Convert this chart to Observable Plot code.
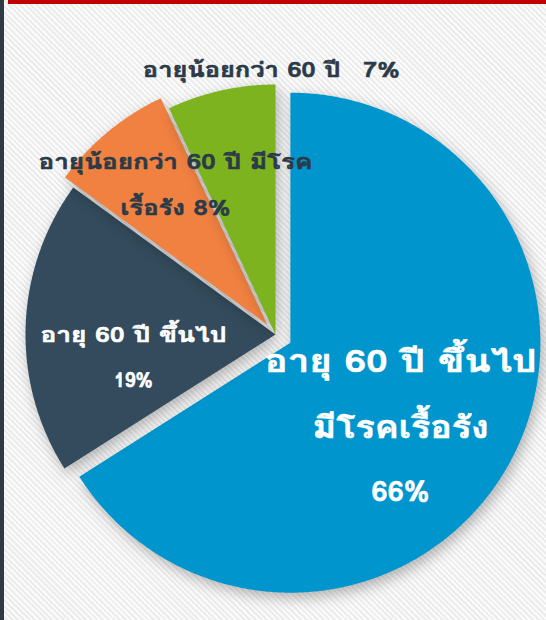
<!DOCTYPE html>
<html>
<head>
<meta charset="utf-8">
<script src="https://cdn.jsdelivr.net/npm/d3@7"></script>
<script src="https://cdn.jsdelivr.net/npm/@observablehq/plot@0.6"></script>
<style>
  html, body { margin: 0; padding: 0; }
  body {
    width: 546px; height: 620px; overflow: hidden; position: relative;
    background: repeating-linear-gradient(45deg, #ececec 0px, #ececec 2px, #fbfbfb 2px, #fbfbfb 4px);
  }
  #leftbar { position: absolute; left: 0; top: 0; width: 4px; height: 620px; background: #2e3a44; }
  #topbar { position: absolute; left: 8px; top: 0; width: 538px; height: 4px; background: #c00000; }
  #chart { position: absolute; left: 0; top: 0; }
  #chart g[aria-label="line"] { filter: drop-shadow(3px 5px 7px rgba(0,0,0,0.28)); }
</style>
</head>
<body>
<div id="leftbar"></div>
<div id="topbar"></div>
<div id="chart"></div>
<script>
// ---- data ----
const categories = [
  "อายุ 60 ปี ขึ้นไป มีโรคเรื้อรัง",
  "อายุ 60 ปี ขึ้นไป",
  "อายุน้อยกว่า 60 ปี มีโรคเรื้อรัง",
  "อายุน้อยกว่า 60 ปี"
];
const values = [66, 19, 8, 7];
const labelLines = [
  ["อายุ 60 ปี ขึ้นไป", "มีโรคเรื้อรัง", "66%"],
  ["อายุ 60 ปี ขึ้นไป", "19%"],
  ["อายุน้อยกว่า 60 ปี มีโรค", "เรื้อรัง 8%"],
  ["อายุน้อยกว่า 60 ปี\u00a0\u00a0 7%"]
];
const colors = ["#0096cd", "#334b5c", "#f08141", "#7db31f"];

// ---- layout (styling, not data) ----
const W = 546, H = 620;
const R = 250;            // pie radius in px
const CX = 275, CY = 334; // pie centre in px
const explodePx = [17, 0, 13, 0];
const labelPlace = [
  {angle: 127.6, rho: 0.556, offsets: [-65, 1, 65], sizes: [31, 31, 28], widths: [272, 176, 58], fill: "#ffffff"},
  {angle: 260.6, rho: 0.576, offsets: [-22.5, 22.5], sizes: [21, 20], widths: [186, 39], fill: "#ffffff"},
  {angle: 326.6, rho: 0.666, offsets: [-23, 23], sizes: [21, 21], widths: [274, 110], fill: "#2b3a48"},
  {angle: 359.1, rho: 1.056, offsets: [0], sizes: [21], widths: [257], fill: "#2b3a48"}
];

const total = d3.sum(values);
const rad = a => a * Math.PI / 180;
let acc = 0;
const slices = values.map((v, i) => {
  const a0 = acc / total * 360;
  acc += v;
  const a1 = acc / total * 360;
  const mid = (a0 + a1) / 2;
  const e = explodePx[i] / R;
  const ox = e * Math.sin(rad(mid)), oy = -e * Math.cos(rad(mid));
  const pts = [{x: ox, y: oy}];
  const n = Math.max(8, Math.ceil((a1 - a0) * 2));
  for (let k = 0; k <= n; k++) {
    const a = a0 + (a1 - a0) * k / n;
    pts.push({x: ox + Math.sin(rad(a)), y: oy - Math.cos(rad(a))});
  }
  return {i, category: categories[i], value: v, a0, a1, mid, ox, oy, pts};
});

const labels = [];
slices.forEach((s, i) => {
  const p = labelPlace[i];
  const bx = s.ox + p.rho * Math.sin(rad(p.angle));
  const by = s.oy - p.rho * Math.cos(rad(p.angle));
  labelLines[i].forEach((t, j) => {
    labels.push({x: bx, y: by + p.offsets[j] / R, text: t, size: p.sizes[j], width: p.widths[j], fill: p.fill});
  });
});

const chart = Plot.plot({
  width: W, height: H,
  margin: 0,
  style: {background: "transparent", fontFamily: "Loma, 'Noto Sans Thai Looped', 'Noto Sans Thai', sans-serif", overflow: "visible"},
  x: {domain: [-CX / R, (W - CX) / R], range: [0, W], axis: null},
  y: {domain: [-CY / R, (H - CY) / R], range: [0, H], axis: null},
  color: {type: "identity"},
  marks: [
    ...slices.map(s => Plot.line(s.pts, {x: "x", y: "y", fill: colors[s.i], stroke: "none", curve: "linear-closed"})),
    Plot.text(labels, {x: "x", y: "y", text: "text", fontSize: "size", fill: "fill", stroke: "fill", strokeWidth: 0.6, fontWeight: "bold", textAnchor: "middle"})
  ]
});
document.getElementById("chart").appendChild(chart);

// widen the glyphs horizontally to match the reference's broad Thai face
const texts = chart.querySelectorAll('g[aria-label="text"] text');
texts.forEach((el, k) => {
  const d = labels[k];
  if (d && d.width) {
    el.setAttribute("textLength", d.width);
    el.setAttribute("lengthAdjust", "spacingAndGlyphs");
  }
});
</script>
</body>
</html>
